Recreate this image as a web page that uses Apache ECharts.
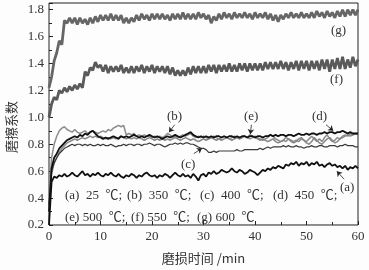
<!DOCTYPE html>
<html>
<head>
<meta charset="utf-8">
<script src="https://cdn.jsdelivr.net/npm/echarts@6/dist/echarts.min.js"></script>
<style>
  html, body { margin: 0; padding: 0; background: #fdfdfd; }
  #chart { width: 369px; height: 270px; }
</style>
</head>
<body>
<div id="chart"></div>
<script>
// 采样时间网格：每 0.5 min 一个点
const TIME = Array.from({ length: 121 }, (_, i) => i * 0.5);

const Y_TICKS = [0.2, 0.4, 0.6, 0.8, 1.0, 1.2, 1.4, 1.6, 1.8];
const X_TICKS = [0, 10, 20, 30, 40, 50, 60];

/* 各温度下的摩擦系数 */
const muA = [
  0.20, 0.52, 0.56, 0.55, 0.57, 0.56, 0.58, 0.56, 0.57, 0.59, 0.57, 0.56, 0.58, 0.60, 0.57, 0.58, 0.56, 0.58, 0.57, 0.59,
  0.57, 0.56, 0.58, 0.57, 0.59, 0.57, 0.56, 0.58, 0.56, 0.55, 0.57, 0.56, 0.58, 0.57, 0.55, 0.57, 0.56, 0.58, 0.59, 0.57,
  0.56, 0.57, 0.55, 0.57, 0.56, 0.58, 0.57, 0.55, 0.57, 0.59, 0.57, 0.56, 0.58, 0.56, 0.57, 0.55, 0.58, 0.56, 0.53, 0.57,
  0.58, 0.56, 0.59, 0.58, 0.60, 0.58, 0.59, 0.61, 0.60, 0.59, 0.60, 0.62, 0.60, 0.59, 0.61, 0.60, 0.58, 0.59, 0.61, 0.60,
  0.59, 0.57, 0.59, 0.61, 0.60, 0.62, 0.61, 0.63, 0.62, 0.64, 0.63, 0.62, 0.65, 0.64, 0.66, 0.65, 0.67, 0.64, 0.66, 0.65,
  0.67, 0.64, 0.66, 0.65, 0.67, 0.64, 0.65, 0.63, 0.65, 0.66, 0.64, 0.65, 0.63, 0.64, 0.62, 0.64, 0.61, 0.63, 0.62, 0.64, 0.62
];
const muB = [
  0.40, 0.70, 0.80, 0.86, 0.90, 0.92, 0.93, 0.91, 0.90, 0.89, 0.91, 0.89, 0.88, 0.89, 0.90, 0.88, 0.89, 0.90, 0.89, 0.88,
  0.89, 0.90, 0.89, 0.91, 0.90, 0.92, 0.93, 0.94, 0.93, 0.94, 0.87, 0.88, 0.87, 0.88, 0.86, 0.87, 0.86, 0.87, 0.86, 0.86,
  0.85, 0.86, 0.85, 0.86, 0.85, 0.86, 0.88, 0.87, 0.85, 0.86, 0.85, 0.86, 0.87, 0.86, 0.87, 0.88, 0.86, 0.85, 0.86, 0.85,
  0.86, 0.85, 0.84, 0.85, 0.86, 0.85, 0.84, 0.85, 0.86, 0.85, 0.84, 0.85, 0.86, 0.85, 0.84, 0.85, 0.86, 0.85, 0.84, 0.85,
  0.86, 0.85, 0.84, 0.83, 0.84, 0.85, 0.87, 0.86, 0.84, 0.83, 0.82, 0.83, 0.82, 0.84, 0.83, 0.82, 0.83, 0.82, 0.84, 0.83,
  0.82, 0.84, 0.86, 0.84, 0.82, 0.84, 0.82, 0.85, 0.87, 0.84, 0.82, 0.83, 0.85, 0.84, 0.86, 0.87, 0.86, 0.88, 0.87, 0.88, 0.88
];
const muC = [
  0.35, 0.60, 0.66, 0.70, 0.73, 0.75, 0.77, 0.78, 0.79, 0.80, 0.79, 0.80, 0.80, 0.79, 0.80, 0.79, 0.80, 0.79, 0.79, 0.80,
  0.79, 0.80, 0.79, 0.79, 0.80, 0.79, 0.78, 0.79, 0.79, 0.80, 0.79, 0.80, 0.80, 0.79, 0.80, 0.80, 0.79, 0.80, 0.80, 0.81,
  0.80, 0.79, 0.80, 0.80, 0.79, 0.78, 0.79, 0.80, 0.80, 0.81, 0.80, 0.81, 0.80, 0.81, 0.81, 0.80, 0.80, 0.79, 0.78, 0.77,
  0.77, 0.76, 0.74, 0.74, 0.75, 0.74, 0.75, 0.75, 0.75, 0.75, 0.75, 0.75, 0.75, 0.76, 0.75, 0.75, 0.76, 0.76, 0.76, 0.76,
  0.76, 0.76, 0.77, 0.76, 0.77, 0.78, 0.77, 0.78, 0.78, 0.78, 0.78, 0.79, 0.78, 0.79, 0.78, 0.78, 0.79, 0.78, 0.78, 0.77,
  0.78, 0.78, 0.79, 0.78, 0.78, 0.79, 0.79, 0.78, 0.78, 0.79, 0.79, 0.79, 0.78, 0.79, 0.79, 0.80, 0.79, 0.79, 0.79, 0.78, 0.78
];
const muD = [
  0.30, 0.62, 0.70, 0.73, 0.77, 0.79, 0.81, 0.83, 0.84, 0.85, 0.86, 0.85, 0.87, 0.86, 0.88, 0.87, 0.89, 0.90, 0.88, 0.86,
  0.85, 0.84, 0.85, 0.84, 0.85, 0.86, 0.85, 0.84, 0.86, 0.85, 0.86, 0.85, 0.86, 0.87, 0.86, 0.85, 0.86, 0.85, 0.86, 0.87,
  0.86, 0.85, 0.86, 0.85, 0.84, 0.85, 0.86, 0.85, 0.86, 0.87, 0.86, 0.85, 0.86, 0.87, 0.88, 0.89, 0.87, 0.86, 0.85, 0.86,
  0.85, 0.86, 0.85, 0.86, 0.85, 0.86, 0.86, 0.85, 0.86, 0.85, 0.86, 0.86, 0.85, 0.86, 0.85, 0.86, 0.86, 0.85, 0.86, 0.86,
  0.85, 0.86, 0.86, 0.85, 0.86, 0.86, 0.87, 0.86, 0.87, 0.86, 0.87, 0.87, 0.86, 0.87, 0.87, 0.86, 0.87, 0.88, 0.87, 0.87,
  0.88, 0.87, 0.88, 0.88, 0.87, 0.88, 0.88, 0.89, 0.88, 0.89, 0.89, 0.88, 0.89, 0.89, 0.90, 0.89, 0.88, 0.89, 0.88, 0.88, 0.88
];
const muE = [
  0.35, 0.58, 0.66, 0.70, 0.74, 0.77, 0.79, 0.81, 0.82, 0.83, 0.84, 0.83, 0.84, 0.85, 0.84, 0.85, 0.86, 0.85, 0.86, 0.85,
  0.86, 0.85, 0.84, 0.85, 0.84, 0.85, 0.84, 0.85, 0.86, 0.85, 0.84, 0.85, 0.84, 0.85, 0.84, 0.85, 0.84, 0.83, 0.84, 0.85,
  0.84, 0.83, 0.84, 0.83, 0.84, 0.83, 0.84, 0.83, 0.84, 0.85, 0.84, 0.83, 0.84, 0.85, 0.84, 0.83, 0.84, 0.83, 0.82, 0.83,
  0.84, 0.83, 0.84, 0.85, 0.84, 0.83, 0.84, 0.83, 0.84, 0.85, 0.84, 0.83, 0.84, 0.85, 0.84, 0.85, 0.86, 0.85, 0.87, 0.86,
  0.85, 0.84, 0.83, 0.84, 0.83, 0.82, 0.83, 0.84, 0.82, 0.81, 0.82, 0.83, 0.85, 0.84, 0.82, 0.81, 0.82, 0.84, 0.85, 0.83,
  0.81, 0.80, 0.82, 0.85, 0.83, 0.81, 0.80, 0.82, 0.84, 0.85, 0.83, 0.81, 0.82, 0.84, 0.85, 0.86, 0.87, 0.86, 0.87, 0.88, 0.87
];
const muF = [
  1.00, 1.10, 1.15, 1.13, 1.20, 1.18, 1.22, 1.19, 1.23, 1.20, 1.24, 1.21, 1.25, 1.22, 1.34, 1.31, 1.37, 1.35, 1.41, 1.37,
  1.39, 1.34, 1.39, 1.33, 1.38, 1.34, 1.38, 1.34, 1.39, 1.33, 1.37, 1.33, 1.38, 1.33, 1.38, 1.34, 1.39, 1.33, 1.38, 1.34,
  1.39, 1.33, 1.38, 1.34, 1.38, 1.33, 1.38, 1.32, 1.37, 1.31, 1.35, 1.31, 1.35, 1.31, 1.37, 1.32, 1.38, 1.33, 1.38, 1.33,
  1.38, 1.33, 1.39, 1.34, 1.39, 1.33, 1.39, 1.34, 1.39, 1.34, 1.40, 1.34, 1.39, 1.34, 1.40, 1.35, 1.40, 1.34, 1.40, 1.35,
  1.40, 1.35, 1.40, 1.35, 1.41, 1.36, 1.41, 1.36, 1.41, 1.36, 1.42, 1.36, 1.41, 1.35, 1.41, 1.36, 1.42, 1.35, 1.42, 1.36,
  1.42, 1.35, 1.42, 1.36, 1.42, 1.35, 1.43, 1.36, 1.43, 1.34, 1.43, 1.36, 1.44, 1.36, 1.45, 1.36, 1.43, 1.37, 1.45, 1.38, 1.43
];
const muG = [
  1.22, 1.30, 1.42, 1.48, 1.57, 1.54, 1.72, 1.70, 1.74, 1.70, 1.74, 1.69, 1.74, 1.70, 1.73, 1.69, 1.74, 1.70, 1.75, 1.71,
  1.76, 1.72, 1.76, 1.72, 1.77, 1.72, 1.76, 1.72, 1.76, 1.70, 1.74, 1.70, 1.74, 1.71, 1.76, 1.72, 1.77, 1.73, 1.76, 1.72,
  1.77, 1.73, 1.77, 1.73, 1.77, 1.73, 1.76, 1.72, 1.77, 1.73, 1.77, 1.73, 1.78, 1.73, 1.77, 1.73, 1.77, 1.73, 1.78, 1.74,
  1.77, 1.73, 1.76, 1.70, 1.75, 1.72, 1.77, 1.73, 1.78, 1.74, 1.77, 1.73, 1.78, 1.74, 1.77, 1.74, 1.78, 1.74, 1.77, 1.73,
  1.78, 1.74, 1.77, 1.74, 1.78, 1.73, 1.77, 1.72, 1.76, 1.71, 1.76, 1.73, 1.77, 1.74, 1.78, 1.74, 1.77, 1.74, 1.78, 1.74,
  1.77, 1.74, 1.78, 1.74, 1.79, 1.75, 1.78, 1.74, 1.79, 1.75, 1.78, 1.74, 1.79, 1.75, 1.80, 1.75, 1.80, 1.76, 1.80, 1.76, 1.80
];

const SERIES = [
  { name: '(g)', data: muG, color: '#666', width: 2.8 },
  { name: '(f)', data: muF, color: '#5a5a5a', width: 2.8 },
  { name: '(b)', data: muB, color: '#8c8c8c', width: 1.5 },
  { name: '(e)', data: muE, color: '#878787', width: 1.5 },
  { name: '(c)', data: muC, color: '#3a3a3a', width: 1.2 },
  { name: '(a)', data: muA, color: '#111', width: 1.8 },
  { name: '(d)', data: muD, color: '#111', width: 1.8 },
];

// 标注箭头（数据坐标）
const ARROWS = [
  [[24.4, 0.945], [23.3, 0.89]],
  [[39.3, 0.945], [39.1, 0.875]],
  [[53.8, 0.945], [55.2, 0.90]],
  [[28.1, 0.73], [29.7, 0.77]],
  [[57.3, 0.54], [55.9, 0.60]],
];

// 图例文字（分段排布）
const LEGEND_LINE1 = ['(a)  25  ℃;', '(b)  350  ℃;', '(c)  400  ℃;', '(d)  450  ℃;'];
const LEGEND_LINE2 = ['(e) 500  ℃;', '(f) 550  ℃;', '(g) 600  ℃'];

const FONT = 'Liberation Serif';
const txt = (x, y, text, size) => ({
  type: 'text', left: x, top: y,
  style: { text, fill: '#333', font: (size || 12) + 'px "' + FONT + '", "Noto Sans CJK SC"' },
});

const chart = echarts.init(document.getElementById('chart'), null, { renderer: 'canvas' });

const option = {
  backgroundColor: '#fdfdfd',
  animation: false,
  grid: { left: 49, right: 11, top: 3, bottom: 39, show: true, borderColor: '#222', borderWidth: 1 },
  xAxis: {
    type: 'value', min: 0, max: 60, interval: 10,
    name: '磨损时间 /min', nameLocation: 'middle', nameGap: 27,
    nameTextStyle: { fontFamily: 'Noto Sans CJK SC', fontSize: 13, color: '#333' },
    axisLine: { show: false },
    axisTick: { inside: true, length: 4, lineStyle: { color: '#222' } },
    minorTick: { show: true, splitNumber: 2, length: 3, lineStyle: { color: '#222' } },
    splitLine: { show: false },
    axisLabel: {
      fontFamily: FONT, fontSize: 13, color: '#333', margin: 5,
      formatter: v => X_TICKS.includes(v) ? String(v) : '',
    },
  },
  yAxis: {
    type: 'value', min: 0.2, max: 1.85, interval: 0.2,
    axisLine: { show: false },
    axisTick: { inside: true, length: 4, lineStyle: { color: '#222' } },
    minorTick: { show: true, splitNumber: 2, length: 3, lineStyle: { color: '#222' } },
    splitLine: { show: false },
    axisLabel: {
      fontFamily: FONT, fontSize: 13, color: '#333', margin: 5, showMaxLabel: false,
      formatter: v => {
        const hit = Y_TICKS.find(t => Math.abs(t - v) < 1e-6);
        return hit === undefined ? '' : hit.toFixed(1);
      },
    },
  },
  series: SERIES.map(s => ({
    type: 'line', name: s.name, showSymbol: false, symbol: 'none',
    data: TIME.map((t, i) => [t, s.data[i]]),
    lineStyle: { color: s.color, width: s.width },
    z: 2,
  })).concat([{
    type: 'line', data: [], silent: true,
    markLine: {
      silent: true, symbol: ['none', 'arrow'], symbolSize: 5,
      lineStyle: { color: '#222', width: 0.8, type: 'solid' },
      label: { show: false },
      data: ARROWS.map(([p, q]) => [{ coord: p }, { coord: q }]),
    },
  }]),
  graphic: [
    {
      type: 'text', x: 11, y: 127, rotation: Math.PI / 2,
      style: { text: '磨擦系数', fill: '#333', font: '13px "Noto Sans CJK SC"', align: 'center', verticalAlign: 'middle' },
    },
    txt(331, 24, '(g)', 13),
    txt(330, 73, '(f)', 13),
    txt(167, 110, '(b)', 13),
    txt(244, 110, '(e)', 13),
    txt(312, 110, '(d)', 13),
    txt(181, 158, '(c)', 13),
    txt(340, 181, '(a)', 13),
  ].concat(
    [65, 127, 200, 273].map((x, i) => txt(x, 189, LEGEND_LINE1[i], 13)),
    [65, 131, 197].map((x, i) => txt(x, 211, LEGEND_LINE2[i], 13))
  ),
};

chart.setOption(option);
</script>
</body>
</html>
